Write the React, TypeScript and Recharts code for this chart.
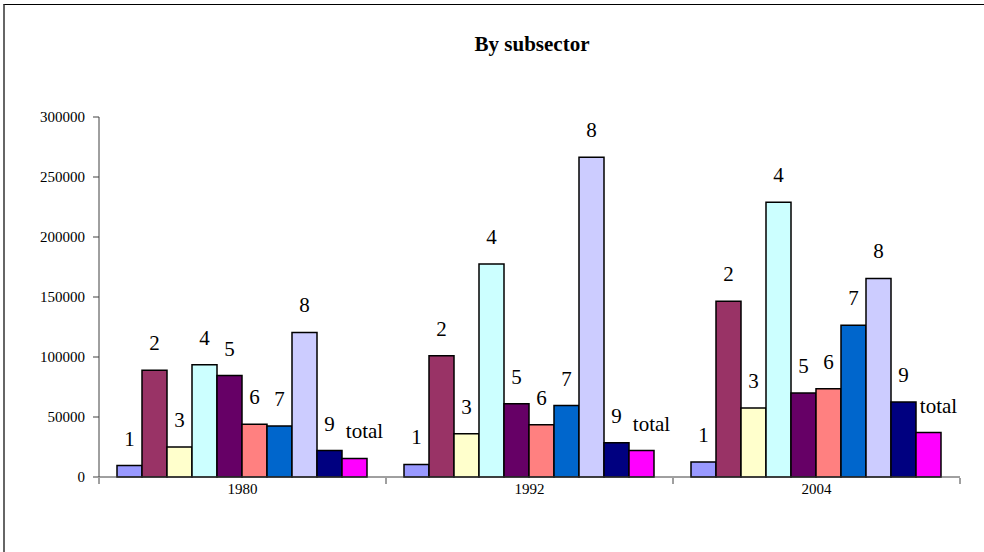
import React from 'react';
import { BarChart, Bar, XAxis, YAxis, LabelList } from 'recharts';

const categories = ['1980', '1992', '2004'];
const seriesNames = ['1', '2', '3', '4', '5', '6', '7', '8', '9', 'total'];
const s1 = [9500, 10500, 12500];
const s2 = [89000, 101000, 146500];
const s3 = [25000, 36000, 57500];
const s4 = [93500, 177500, 229000];
const s5 = [84500, 61000, 70000];
const s6 = [44000, 43500, 73500];
const s7 = [42500, 59500, 126500];
const s8 = [120500, 266500, 165500];
const s9 = [22000, 28500, 62500];
const sTotal = [15500, 22000, 37000];
const yTicks = [0, 50000, 100000, 150000, 200000, 250000, 300000];
const colors = ['#9999FF', '#993366', '#FFFFCC', '#CCFFFF', '#660066', '#FF8080', '#0066CC', '#CCCCFF', '#000080', '#FF00FF'];

const seriesValues = [s1, s2, s3, s4, s5, s6, s7, s8, s9, sTotal];

const data = categories.map((c, i) => {
  const row: Record<string, any> = { cat: c, idx: i + 0.5 };
  seriesNames.forEach((n, k) => {
    row['s' + k] = seriesValues[k][i];
  });
  return row;
});

const FONT = '"Liberation Serif", "DejaVu Serif", serif';

export default function App() {
  return (
    <div style={{ position: 'absolute', left: 0, top: 0, width: 984, height: 552, background: '#fff', overflow: 'hidden', fontFamily: FONT }}>
      <div style={{ position: 'absolute', left: 3, top: 4, width: 990, height: 560, borderTop: '1px solid #000', borderLeft: '2px solid #666' }} />
      <div style={{ position: 'absolute', left: 0, top: 32, width: 1064, textAlign: 'center', fontFamily: FONT, fontWeight: 'bold', fontSize: 21, color: '#000' }}>
        By subsector
      </div>
      <div style={{ position: 'absolute', left: 0, top: 0, fontFamily: FONT }}>
        <BarChart
          width={984}
          height={552}
          data={data}
          margin={{ top: 117, right: 24, left: 0, bottom: 45 }}
          barCategoryGap={18}
          barGap={0}
          style={{ fontFamily: FONT }}
        >
          <XAxis
            dataKey="cat"
            tickLine={false}
            tickSize={0}
            tickMargin={6}
            height={1}
            axisLine={{ stroke: '#404040' }}
            tick={{ fill: '#000', fontSize: 15, fontFamily: FONT }}
          />
          <XAxis
            xAxisId="grid"
            type="number"
            dataKey="idx"
            domain={[0, 3]}
            ticks={[0, 1, 2, 3]}
            tickFormatter={() => ''}
            axisLine={false}
            tickLine={{ stroke: '#404040' }}
            tickSize={6}
            height={29}
            allowDataOverflow
          />
          <YAxis
            width={99}
            domain={[0, 300000]}
            ticks={yTicks}
            interval={0}
            tickSize={6}
            tickMargin={8}
            axisLine={{ stroke: '#404040' }}
            tickLine={{ stroke: '#404040' }}
            tick={{ fill: '#000', fontSize: 15, fontFamily: FONT }}
          />
          {seriesNames.map((name, k) => (
            <Bar
              key={name}
              dataKey={'s' + k}
              name={name}
              fill={colors[k]}
              stroke="#000"
              strokeWidth={1.5}
              isAnimationActive={false}
            >
              <LabelList
                position="top"
                offset={20}
                dx={name === 'total' ? 10 : 0}
                formatter={() => name}
                fill="#000"
                fontSize={21}
                fontFamily={FONT}
              />
            </Bar>
          ))}
        </BarChart>
      </div>
    </div>
  );
}
